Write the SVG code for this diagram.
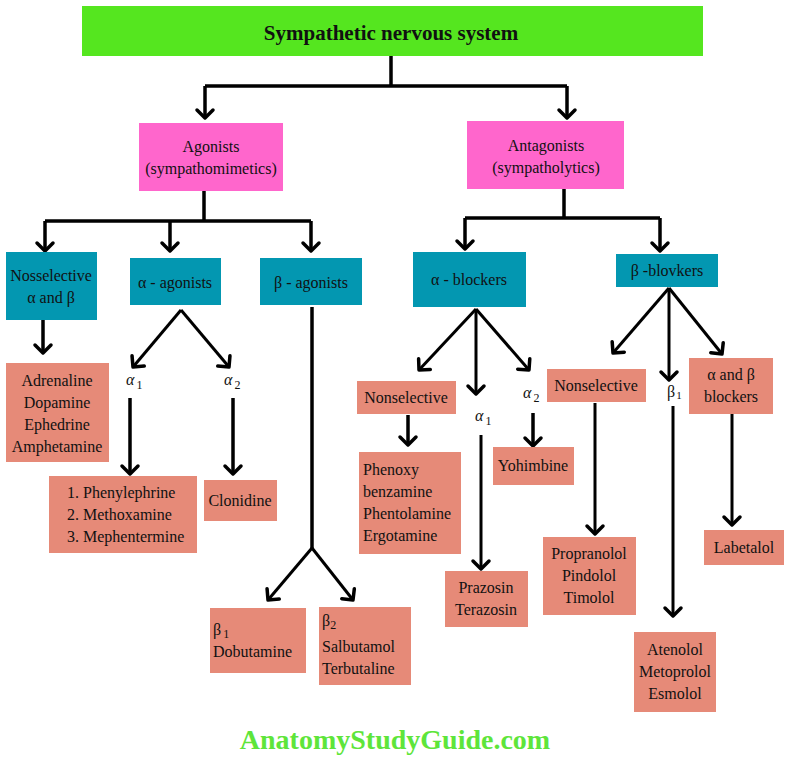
<svg xmlns="http://www.w3.org/2000/svg" width="788" height="764" viewBox="0 0 788 764" font-family="'Liberation Serif', 'DejaVu Serif', serif">
<defs>
<style>
text{font-family:"Liberation Serif","DejaVu Serif",serif;fill:#111;}
.t{font-family:"Liberation Serif",serif;font-size:16px;text-anchor:middle;}
.l{font-family:"Liberation Serif",serif;font-size:16px;text-anchor:start;}
.g{fill:#55e61f;}
.p{fill:#ff66cc;}
.b{fill:#0397b1;}
.s{fill:#e68a78;}
.c{stroke:#000;stroke-width:3.5;fill:none;}
.c2{stroke:#000;stroke-width:3;fill:none;}
.sub{font-size:16px;font-style:italic;}
</style>
<marker id="ah" markerUnits="userSpaceOnUse" markerWidth="20" markerHeight="20" viewBox="-10 -10 20 20" refX="0" refY="0" orient="auto" overflow="visible">
<path d="M-8,-8 L0,0 L-8,8" fill="none" stroke="#000" stroke-width="3.5" stroke-linejoin="round" stroke-linecap="round"/>
</marker>
</defs>
<rect width="788" height="764" fill="#fff"/>

<g id="connectors">
<path class="c" d="M391,56 V86 M205,86 H567"/>
<path class="c" d="M205,86 V118" marker-end="url(#ah)"/>
<path class="c" d="M567,86 V118" marker-end="url(#ah)"/>
<path class="c" d="M204,191 V221 M45,221 H311"/>
<path class="c" d="M45,221 V251" marker-end="url(#ah)"/>
<path class="c" d="M170,221 V251" marker-end="url(#ah)"/>
<path class="c" d="M311,221 V251" marker-end="url(#ah)"/>
<path class="c" d="M564,189 V218 M465,218 H660"/>
<path class="c" d="M465,218 V249" marker-end="url(#ah)"/>
<path class="c" d="M660,218 V251" marker-end="url(#ah)"/>
<path class="c" d="M43,320 V353" marker-end="url(#ah)"/>
<path class="c2" d="M181,310 L133,367" marker-end="url(#ah)"/>
<path class="c2" d="M181,310 L229,367" marker-end="url(#ah)"/>
<path class="c" d="M130,398 V474" marker-end="url(#ah)"/>
<path class="c" d="M233,398 V474" marker-end="url(#ah)"/>
<path class="c" d="M312,307 V548"/>
<path class="c2" d="M312,548 L268,600" marker-end="url(#ah)"/>
<path class="c2" d="M312,548 L353,600" marker-end="url(#ah)"/>
<path class="c2" d="M476,309 L419,370" marker-end="url(#ah)"/>
<path class="c2" d="M476,309 V394" marker-end="url(#ah)"/>
<path class="c2" d="M476,309 L529,370" marker-end="url(#ah)"/>
<path class="c" d="M408,415 V445" marker-end="url(#ah)"/>
<path class="c2" d="M481,435 V569" marker-end="url(#ah)"/>
<path class="c" d="M533,413 V446" marker-end="url(#ah)"/>
<path class="c2" d="M669,288 L613,353" marker-end="url(#ah)"/>
<path class="c2" d="M669,288 V380" marker-end="url(#ah)"/>
<path class="c2" d="M669,288 L722,354" marker-end="url(#ah)"/>
<path class="c2" d="M595,403 V534" marker-end="url(#ah)"/>
<path class="c2" d="M673,406 V616" marker-end="url(#ah)"/>
<path class="c2" d="M732,414 V525" marker-end="url(#ah)"/>
</g>

<g id="title">
<rect class="g" x="82" y="6" width="621" height="50"/>
<text x="391" y="40" text-anchor="middle" font-size="21" font-weight="bold">Sympathetic nervous system</text>
</g>

<g id="agonists">
<rect class="p" x="139" y="123" width="144" height="68"/>
<text class="t" x="211" y="152">Agonists</text>
<text class="t" x="211" y="174">(sympathomimetics)</text>
</g>
<g id="antagonists">
<rect class="p" x="467" y="121" width="157" height="68"/>
<text class="t" x="546" y="151">Antagonists</text>
<text class="t" x="546" y="173">(sympatholytics)</text>
</g>

<g id="nonselective-ab">
<rect class="b" x="6" y="252" width="91" height="68"/>
<text class="t" x="51" y="281">Nosselective</text>
<text class="t" x="51" y="303">α and β</text>
</g>
<g id="alpha-agonists">
<rect class="b" x="130" y="258" width="91" height="47"/>
<text class="t" x="175" y="288">α - agonists</text>
</g>
<g id="beta-agonists">
<rect class="b" x="260" y="258" width="102" height="47"/>
<text class="t" x="311" y="288">β - agonists</text>
</g>
<g id="alpha-blockers">
<rect class="b" x="413" y="252" width="113" height="55"/>
<text class="t" x="469" y="285">α - blockers</text>
</g>
<g id="beta-blockers">
<rect class="b" x="616" y="254" width="102" height="33"/>
<text class="t" x="667" y="276">β -blovkers</text>
</g>

<g id="adrenaline">
<rect class="s" x="6" y="363" width="103" height="99"/>
<text class="t" x="57" y="386">Adrenaline</text>
<text class="t" x="57" y="408">Dopamine</text>
<text class="t" x="57" y="430">Ephedrine</text>
<text class="t" x="57" y="452">Amphetamine</text>
</g>

<g id="alpha1-label"><text x="126" y="385"><tspan class="sub">α</tspan><tspan font-size="12" dx="2" dy="4">1</tspan></text></g>
<g id="alpha2-label"><text x="224" y="385"><tspan class="sub">α</tspan><tspan font-size="12" dx="2" dy="4">2</tspan></text></g>

<g id="phenylephrine">
<rect class="s" x="49" y="476" width="148" height="77"/>
<text class="l" x="67" y="498">1. Phenylephrine</text>
<text class="l" x="67" y="520">2. Methoxamine</text>
<text class="l" x="67" y="542">3. Mephentermine</text>
</g>
<g id="clonidine">
<rect class="s" x="204" y="480" width="73" height="41"/>
<text class="t" x="240" y="506">Clonidine</text>
</g>

<g id="dobutamine">
<rect class="s" x="210" y="608" width="96" height="65"/>
<text x="213" y="635"><tspan font-size="16">β</tspan><tspan font-size="12" dx="2" dy="3">1</tspan></text>
<text class="l" x="213" y="657">Dobutamine</text>
</g>
<g id="salbutamol">
<rect class="s" x="319" y="607" width="92" height="78"/>
<text x="322" y="626"><tspan font-size="16">β</tspan><tspan font-size="12" dy="3">2</tspan></text>
<text class="l" x="322" y="652">Salbutamol</text>
<text class="l" x="322" y="674">Terbutaline</text>
</g>

<g id="nonselective-blockers">
<rect class="s" x="357" y="381" width="99" height="33"/>
<text class="t" x="406" y="403">Nonselective</text>
</g>
<g id="alpha1-blk-label"><text x="475" y="421"><tspan class="sub">α</tspan><tspan font-size="12" dx="2" dy="4">1</tspan></text></g>
<g id="alpha2-blk-label"><text x="523" y="398"><tspan class="sub">α</tspan><tspan font-size="12" dx="2" dy="4">2</tspan></text></g>

<g id="phenoxybenzamine">
<rect class="s" x="359" y="452" width="102" height="102"/>
<text class="l" x="363" y="475">Phenoxy</text>
<text class="l" x="363" y="497">benzamine</text>
<text class="l" x="363" y="519">Phentolamine</text>
<text class="l" x="363" y="541">Ergotamine</text>
</g>
<g id="prazosin">
<rect class="s" x="445" y="571" width="83" height="56"/>
<text class="t" x="486" y="593">Prazosin</text>
<text class="t" x="486" y="615">Terazosin</text>
</g>
<g id="yohimbine">
<rect class="s" x="493" y="447" width="81" height="38"/>
<text class="t" x="533" y="471">Yohimbine</text>
</g>

<g id="nonselective-beta">
<rect class="s" x="547" y="369" width="99" height="33"/>
<text class="t" x="596" y="391">Nonselective</text>
</g>
<g id="beta1-label"><text x="667" y="397"><tspan font-size="16">β</tspan><tspan font-size="11" dx="1" dy="2">1</tspan></text></g>
<g id="ab-blockers">
<rect class="s" x="689" y="358" width="84" height="56"/>
<text class="t" x="731" y="380">α and β</text>
<text class="t" x="731" y="402">blockers</text>
</g>
<g id="propranolol">
<rect class="s" x="543" y="537" width="93" height="78"/>
<text class="t" x="589" y="559">Propranolol</text>
<text class="t" x="589" y="581">Pindolol</text>
<text class="t" x="589" y="603">Timolol</text>
</g>
<g id="atenolol">
<rect class="s" x="634" y="632" width="82" height="80"/>
<text class="t" x="675" y="655">Atenolol</text>
<text class="t" x="675" y="677">Metoprolol</text>
<text class="t" x="675" y="699">Esmolol</text>
</g>
<g id="labetalol">
<rect class="s" x="704" y="530" width="80" height="35"/>
<text class="t" x="744" y="553">Labetalol</text>
</g>

<text x="395" y="749" text-anchor="middle" font-size="28" font-weight="bold" style="fill:#5ee53a">AnatomyStudyGuide.com</text>
</svg>
